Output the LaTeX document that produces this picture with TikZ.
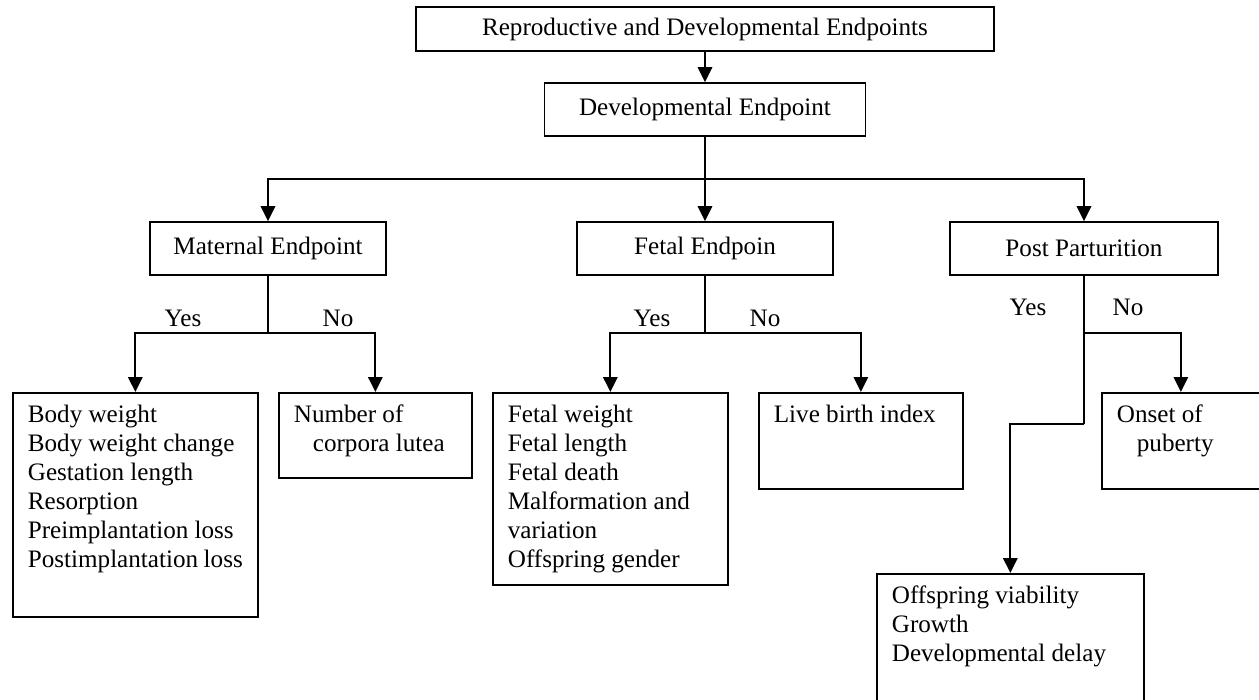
\documentclass[tikz,border=0pt]{standalone}
\usepackage{fontspec}
\setmainfont{Liberation Serif}
\usetikzlibrary{arrows.meta}
\newcommand{\listtext}[3]{\parbox[c][#2][t]{#1}{\raggedright #3}}
\begin{document}
\begin{tikzpicture}[x=0.02cm,y=-0.02cm,
  font=\fontsize{14.3}{16.5}\selectfont,
  box/.style={draw,line width=1pt,inner sep=0pt,minimum height=10.6mm,align=center},
  listbox/.style={draw,line width=1pt,anchor=north west,inner xsep=3mm,inner ysep=2.4mm},
  arrow/.style={line width=1pt,-{Triangle[length=3mm,width=2.9mm]}},
  line/.style={line width=1pt},
  answer/.style={inner sep=0pt}]
\useasboundingbox (0,0) rectangle (1259,700);

% Kästen
\node[box,minimum width=115.6mm,minimum height=8.8mm] (repro) at (705,29) {Reproductive and Developmental Endpoints};
\node[box,minimum width=64.2mm] (devel) at (705,109.5) {Developmental Endpoint};
\node[box,minimum width=47.2mm] (maternal) at (268,248.5) {Maternal Endpoint};
\node[box,minimum width=51.2mm] (fetal) at (705,248.5) {Fetal Endpoin};
\node[box,minimum width=53.6mm] (post) at (1084,248.5) {Post Parturition};

\node[listbox] (matlist) at (12,392) {\listtext{43mm}{40mm}{Body weight\\Body weight change\\Gestation length\\Resorption\\Preimplantation loss\\Postimplantation loss}};
\node[listbox] (corpora) at (278,392) {\listtext{32.6mm}{12.2mm}{Number of\\\hspace*{3.8mm}corpora lutea}};
\node[listbox] (fetlist) at (492,392) {\listtext{41mm}{33.6mm}{Fetal weight\\Fetal length\\Fetal death\\Malformation and\\variation\\Offspring gender}};
\node[listbox] (livebirth) at (758,392) {\listtext{34.8mm}{14.4mm}{Live birth index}};
\node[listbox] (puberty) at (1101,392) {\listtext{25.6mm}{14.4mm}{Onset of\\\hspace*{4mm}puberty}};
\node[listbox] (offspring) at (876,573) {\listtext{47.4mm}{22.6mm}{Offspring viability\\Growth\\Developmental delay}};

% Verzweigungen
\coordinate (split) at (705,179);
\coordinate (matsplit) at (268,333);
\coordinate (fetsplit) at (705,333);
\coordinate (postsplit) at (1084,333);
\coordinate (postbend) at (1084,424);

% Pfeile
\draw[arrow] (repro) -- (devel);
\draw[line] (devel) -- (split);
\draw[arrow] (split) -| (maternal.north);
\draw[arrow] (split) -- (fetal.north);
\draw[arrow] (split) -| (post.north);

\draw[line] (maternal) -- (matsplit);
\draw[arrow] (matsplit) -| (matlist.north);
\draw[arrow] (matsplit) -| (corpora.north);

\draw[line] (fetal) -- (fetsplit);
\draw[arrow] (fetsplit) -| (fetlist.north);
\draw[arrow] (fetsplit) -| (livebirth.north);

\draw[line] (post) -- (postsplit);
\draw[arrow] (postsplit) -| (puberty.north);
\draw[line] (postsplit) -- (postbend);
\draw[arrow] (postbend) -| (offspring.north);

% Beschriftungen
\node[answer] (matyes) at (183,318) {Yes};
\node[answer] (matno) at (338,318) {No};
\node[answer] (fetyes) at (652,318) {Yes};
\node[answer] (fetno) at (765,318) {No};
\node[answer] (postyes) at (1028,307) {Yes};
\node[answer] (postno) at (1128,307) {No};
\end{tikzpicture}
\end{document}
